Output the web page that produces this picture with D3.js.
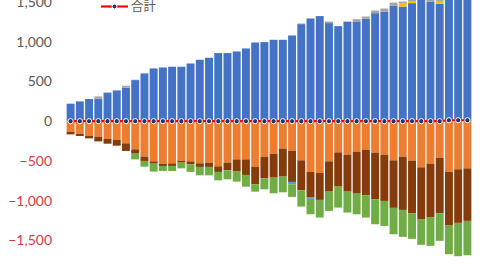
<!DOCTYPE html>
<html>
<head>
<meta charset="utf-8">
<script src="https://cdn.jsdelivr.net/npm/d3@7"></script>
<style>
  body { margin: 0; background: #fff; }
  svg { display: block; }
</style>
</head>
<body>
<svg id="chart" width="480" height="270"></svg>
<script>
// one entry per period, left to right
var periods = d3.range(1, 45);

// positive side (stacked upwards)
var blueVals = [220, 249, 279, 283, 358, 387, 421, 517, 601, 664, 676, 685, 685, 726, 773, 798, 857, 857, 877, 915,
  990, 995, 1024, 1024, 1078, 1221, 1292, 1322, 1234, 1196, 1250, 1255, 1288, 1359, 1376, 1451, 1442, 1485, 1540, 1505,
  1476, 1620, 1680, 1700];
var yellowVals = [0, 0, 0, 0, 0, 0, 0, 0, 0, 0, 0, 0, 0, 0, 0, 0, 0, 0, 0, 0,
  0, 0, 0, 0, 0, 0, 0, 0, 0, 0, 0, 0, 0, 0, 0, 0, 43, 20, 0, 0,
  37, 0, 0, 0];
var grayVals = [0, 0, 0, 29, 5, 0, 25, 5, 0, 0, 0, 0, 0, 0, 0, 0, 0, 0, 0, 0,
  0, 0, 0, 0, 0, 8, 0, 0, 20, 0, 5, 29, 29, 33, 41, 41, 20, 25, 20, 30,
  25, 15, 15, 15];

// negative side (stacked downwards)
var orangeVals = [-132, -157, -186, -195, -220, -236, -279, -354, -446, -505, -534, -530, -500, -505, -530, -522, -568, -521, -480, -480,
  -572, -446, -408, -345, -371, -492, -638, -651, -505, -392, -421, -383, -358, -396, -421, -492, -446, -496, -580, -534,
  -462, -638, -605, -593];
var brownVals = [-34, -29, -30, -59, -63, -72, -95, -54, -54, -29, -29, -33, -21, -38, -45, -53, -70, -97, -154, -196,
  -222, -272, -302, -352, -393, -377, -323, -339, -381, -431, -465, -528, -574, -586, -582, -598, -670, -662, -657, -678,
  -696, -675, -674, -661];
var lightBlueVals = [0, 0, 0, 0, 0, 0, 0, 0, 0, 0, 0, 0, 0, 0, 0, 0, 0, 0, 0, 0,
  0, 0, 0, 0, -30, 0, -16, 0, 0, 0, 0, 0, 0, 0, 0, 0, 0, 0, 0, 0,
  0, 0, 0, 0];
var greenVals = [0, 0, 0, 0, 0, 0, 0, -72, -72, -100, -63, -63, -72, -95, -106, -106, -106, -113, -126, -147,
  -92, -139, -197, -197, -158, -205, -194, -222, -242, -264, -263, -260, -280, -314, -314, -332, -339, -322, -318, -356,
  -347, -360, -419, -432];

// 合計 line
var totalVals = [0, 0, 0, 0, 0, 0, 0, 0, 0, 0, 0, 0, 0, 0, 0, 0, 0, 0, 0, 0,
  0, 0, 0, 0, 0, 0, 0, 0, 0, 0, 0, 0, 0, 0, 0, 0, 0, 0, 0, 0,
  0, 12, 12, 12];

var yTicks = [-2000, -1500, -1000, -500, 0, 500, 1000, 1500, 2000];
var legendLabel = "合計";

var keys = ["blue", "yellow", "gray", "orange", "brown", "lightBlue", "green"];
var colors = {
  blue: "#4472C4", yellow: "#FFC000", gray: "#A5A5A5",
  orange: "#ED7D31", brown: "#843C0C", lightBlue: "#5B9BD5", green: "#70AD47"
};

var table = periods.map(function(p, i) {
  return {
    period: p,
    blue: blueVals[i], yellow: yellowVals[i], gray: grayVals[i],
    orange: orangeVals[i], brown: brownVals[i], lightBlue: lightBlueVals[i], green: greenVals[i],
    total: totalVals[i]
  };
});

var svg = d3.select("#chart");

var x = d3.scaleBand()
  .domain(periods)
  .range([66, 472])
  .paddingInner(0.14)
  .paddingOuter(0.07);

var y = d3.scaleLinear()
  .domain([-2000, 2000])
  .range([280.2, -37.8]);

var series = d3.stack()
  .keys(keys)
  .offset(d3.stackOffsetDiverging)(table);

svg.append("g")
  .selectAll("g")
  .data(series)
  .join("g")
    .attr("fill", d => colors[d.key])
  .selectAll("rect")
  .data(d => d)
  .join("rect")
    .attr("x", d => x(d.data.period))
    .attr("width", x.bandwidth())
    .attr("y", d => y(Math.max(d[0], d[1])))
    .attr("height", d => Math.abs(y(d[0]) - y(d[1])));

// y axis, labels only
var yAxis = svg.append("g")
  .attr("transform", "translate(55,0)")
  .call(d3.axisLeft(y)
    .tickValues(yTicks)
    .tickSize(0)
    .tickPadding(3)
    .tickFormat(d3.format(",")));
yAxis.select(".domain").remove();
yAxis.selectAll("text")
  .attr("font-family", "Lato, 'Open Sans', sans-serif")
  .attr("font-size", 14)
  .attr("fill", d => d < 0 ? "#D63A4A" : "#595959");

// 合計 line with markers
var line = d3.line()
  .x(d => x(d.period) + x.bandwidth() / 2)
  .y(d => y(d.total));

svg.append("path")
  .attr("fill", "none")
  .attr("stroke", "#FF0000")
  .attr("stroke-width", 2.2)
  .attr("d", line(table));

svg.append("g")
  .selectAll("circle")
  .data(table)
  .join("circle")
    .attr("cx", d => x(d.period) + x.bandwidth() / 2)
    .attr("cy", d => y(d.total))
    .attr("r", 2.6)
    .attr("fill", "#1F3864")
    .attr("stroke", "#fff")
    .attr("stroke-width", 1);

// legend
var legend = svg.append("g").attr("transform", "translate(101,6.5)");
legend.append("line")
  .attr("x1", 0).attr("x2", 27)
  .attr("y1", 0).attr("y2", 0)
  .attr("stroke", "#FF0000")
  .attr("stroke-width", 2.2);
legend.append("circle")
  .attr("cx", 13.5).attr("cy", 0)
  .attr("r", 2.4)
  .attr("fill", "#1F3864")
  .attr("stroke", "#fff")
  .attr("stroke-width", 1);
legend.append("text")
  .attr("x", 30)
  .attr("dy", "0.36em")
  .attr("font-family", "'Noto Sans CJK JP', sans-serif")
  .attr("font-size", 12.5)
  .attr("fill", "#595959")
  .text(legendLabel);
</script>
</body>
</html>
